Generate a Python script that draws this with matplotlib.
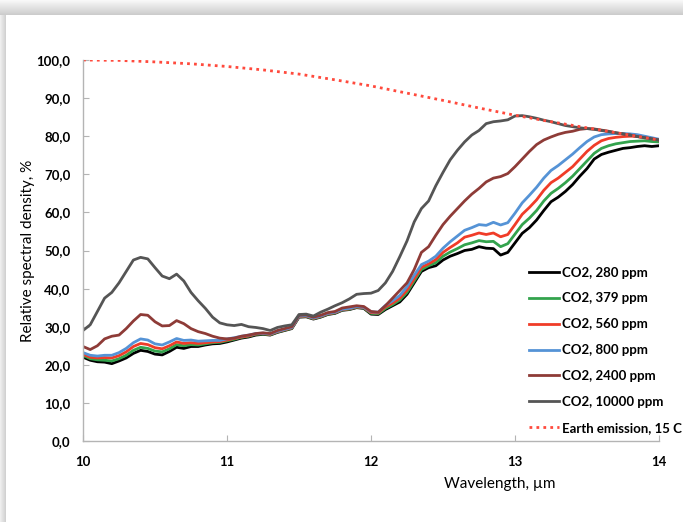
import numpy as np
import matplotlib
matplotlib.use("Agg")
import matplotlib.pyplot as plt

plt.rcParams['font.family'] = ['Lato', 'DejaVu Sans']

# wavelength grid (um) shared by the CO2 curves
wl = np.round(np.arange(10.0, 14.0001, 0.05), 2)

co2_280 = [22.0, 21.2, 20.8, 20.7, 20.3, 21.0, 21.8, 23.0, 23.8, 23.5,
           22.8, 22.6, 23.5, 24.6, 24.3, 24.8, 24.8, 25.2, 25.5, 25.6,
           26.0, 26.5, 27.0, 27.3, 27.8, 28.0, 27.8, 28.5, 29.0, 29.5,
           32.5, 32.6, 32.0, 32.5, 33.2, 33.5, 34.3, 34.5, 35.0, 34.8,
           33.3, 33.2, 34.5, 35.5, 36.5, 38.5, 41.5, 44.5, 45.5, 46.0,
           47.5, 48.5, 49.2, 50.0, 50.3, 51.0, 50.6, 50.5, 48.8, 49.5,
           52.0, 54.5, 56.0, 58.0, 60.5, 62.8, 64.0, 65.5, 67.3, 69.5,
           71.5, 74.0, 75.2, 75.8, 76.3, 76.8, 77.0, 77.3, 77.5, 77.3, 77.5]

co2_379 = [22.5, 21.6, 21.3, 21.2, 21.0, 21.6, 22.5, 23.8, 24.6, 24.3,
           23.6, 23.4, 24.2, 25.3, 25.0, 25.3, 25.2, 25.5, 25.8, 25.9,
           26.3, 26.7, 27.2, 27.5, 28.0, 28.1, 27.9, 28.6, 29.1, 29.6,
           32.6, 32.7, 32.1, 32.6, 33.3, 33.6, 34.4, 34.6, 35.1, 34.9,
           33.5, 33.4, 34.8, 35.8, 37.0, 39.0, 42.0, 45.0, 46.0, 46.8,
           48.5, 49.6, 50.5, 51.5, 52.0, 52.6, 52.3, 52.4, 51.0, 51.8,
           54.3, 56.8, 58.5, 60.5, 63.0, 65.0, 66.3, 67.8, 69.5, 71.5,
           73.5, 75.5, 76.8, 77.5, 78.0, 78.3, 78.6, 78.7, 78.8, 78.6, 78.5]

co2_560 = [22.8, 22.0, 21.8, 21.9, 21.8, 22.4, 23.4, 24.8, 25.6, 25.3,
           24.5, 24.2, 25.0, 26.0, 25.6, 25.8, 25.6, 25.8, 26.0, 26.1,
           26.5, 26.9, 27.3, 27.6, 28.1, 28.2, 28.0, 28.7, 29.2, 29.7,
           32.7, 32.8, 32.2, 32.7, 33.4, 33.7, 34.5, 34.7, 35.2, 35.0,
           33.7, 33.6, 35.2, 36.2, 37.5, 39.6, 42.6, 45.6, 46.5, 47.6,
           49.5, 50.8, 52.0, 53.5, 54.0, 54.6, 54.2, 54.6, 53.6, 54.2,
           56.8, 59.5, 61.3, 63.3, 65.8, 67.8, 69.0, 70.5, 72.0, 74.0,
           76.0, 77.6, 78.8, 79.4, 79.7, 79.9, 80.0, 80.0, 79.8, 79.4, 79.0]

co2_800 = [23.2, 22.5, 22.3, 22.5, 22.5, 23.2, 24.3, 25.8, 26.8, 26.5,
           25.5, 25.2, 26.0, 26.9, 26.4, 26.5, 26.2, 26.3, 26.4, 26.4,
           26.8, 27.1, 27.5, 27.8, 28.2, 28.3, 28.1, 28.8, 29.3, 29.8,
           32.8, 32.9, 32.3, 32.8, 33.5, 33.8, 34.6, 34.8, 35.3, 35.1,
           33.9, 33.8, 35.6, 36.8, 38.2, 40.5, 43.5, 46.3, 47.2, 48.5,
           50.6, 52.3, 53.8, 55.3, 56.0, 56.8, 56.6, 57.4, 56.7, 57.3,
           59.8, 62.5, 64.5, 66.6, 69.0, 71.0, 72.3, 73.8, 75.3, 77.0,
           78.6, 79.8, 80.4, 80.6, 80.7, 80.7, 80.6, 80.4, 80.0, 79.6, 79.2]

co2_2400 = [24.8, 24.0, 25.0, 26.8, 27.5, 27.8, 29.5, 31.5, 33.2, 33.0,
            31.3, 30.2, 30.3, 31.6, 30.8, 29.5, 28.7, 28.2, 27.5, 27.0,
            26.8, 27.0, 27.5, 27.8, 28.2, 28.4, 28.2, 29.0, 29.5, 30.0,
            33.0, 33.1, 32.5, 33.0, 33.7, 34.0, 34.9, 35.2, 35.5, 35.3,
            34.0, 33.8, 35.5, 37.5, 39.5, 41.5, 45.0, 49.5, 51.0, 54.0,
            56.8, 59.0, 61.0, 63.0, 64.8, 66.3, 68.0, 69.0, 69.4, 70.2,
            72.0, 74.0, 76.0, 77.8, 79.0, 79.8, 80.5, 81.0, 81.3, 81.8,
            82.0, 81.9, 81.6, 81.3, 80.9, 80.6, 80.3, 79.9, 79.6, 79.3, 79.0]

co2_10000 = [29.0, 30.5, 34.0, 37.5, 39.0, 41.5, 44.5, 47.5, 48.2, 47.8,
             45.5, 43.3, 42.6, 43.8, 42.0, 39.0, 36.8, 34.8, 32.5, 31.0,
             30.5, 30.3, 30.6, 30.0, 29.8, 29.5, 29.0, 29.8, 30.2, 30.5,
             33.2, 33.3, 32.8, 33.8, 34.6, 35.5, 36.3, 37.3, 38.5, 38.7,
             38.8, 39.5, 41.5, 44.5, 48.4, 52.5, 57.5, 61.0, 63.0, 67.0,
             70.5, 73.8, 76.3, 78.5, 80.3, 81.5, 83.3, 83.8, 84.0, 84.3,
             85.3, 85.4, 85.1, 84.7, 84.2, 83.8, 83.3, 82.8, 82.5, 82.2,
             82.0, 81.8, 81.5, 81.2, 80.9, 80.6, 80.3, 79.9, 79.6, 79.3, 79.0]

earth_wl = [10.0, 10.25, 10.5, 10.75, 11.0, 11.25, 11.5, 11.75, 12.0,
            12.25, 12.5, 12.75, 13.0, 13.25, 13.5, 13.75, 14.0]
earth_15c = [100.0, 99.9, 99.5, 99.0, 98.3, 97.4, 96.3, 94.8, 93.2,
             91.3, 89.4, 87.4, 85.5, 83.8, 82.2, 80.6, 79.0]

series = [
    ("CO2, 280 ppm", co2_280, "#000000"),
    ("CO2, 379 ppm", co2_379, "#33a34d"),
    ("CO2, 560 ppm", co2_560, "#f03c28"),
    ("CO2, 800 ppm", co2_800, "#5593d6"),
    ("CO2, 2400 ppm", co2_2400, "#8e3b37"),
    ("CO2, 10000 ppm", co2_10000, "#555555"),
]

fig = plt.figure(figsize=(6.83, 5.22), dpi=100)

# drop shadow of the chart panel (top and left edges)
bg = np.ones((522, 683))
top = np.linspace(0.97, 0.80, 15)
bg[:15, :] = top[:, None]
left = np.linspace(0.93, 0.82, 6)
bg[15:, :6] = left[None, :]
bax = fig.add_axes([0, 0, 1, 1], zorder=-5)
bax.imshow(bg, cmap="gray", vmin=0, vmax=1, aspect="auto", interpolation="bilinear")
bax.axis("off")

ax = fig.add_axes([83 / 683, 81 / 522, 576 / 683, 381 / 522])
ax.patch.set_alpha(0)

for label, vals, col in series:
    ax.plot(wl, vals, color=col, lw=2.0, label=label)
ax.plot(earth_wl, earth_15c, color="#ff4a3d", lw=2.0, ls=(0, (1, 1.5)),
        label="Earth emission, 15 C")

ax.set_xlim(10, 14)
ax.set_ylim(0, 100)
ax.set_xticks([10, 11, 12, 13, 14])
ax.set_yticks(np.arange(0, 101, 10))
ax.set_yticklabels([f"{v:.1f}".replace(".", ",") for v in np.arange(0, 101, 10)])
for s in ["top", "right"]:
    ax.spines[s].set_visible(False)
for s in ["left", "bottom"]:
    ax.spines[s].set_color("#b4b4b4")
    ax.spines[s].set_linewidth(1.0)
ax.tick_params(direction="in", length=4, color="#b4b4b4", labelsize=9.5)
ax.tick_params(axis="y", pad=9)
ax.tick_params(axis="x", pad=11)
for t in ax.get_xticklabels() + ax.get_yticklabels():
    t.set_fontweight("bold")

ax.set_xlabel("Wavelength, \u00b5m", fontsize=11)
ax.xaxis.set_label_coords(0.724, -0.095)
ax.set_ylabel("Relative spectral density, %", fontsize=11)
ax.yaxis.set_label_coords(-0.083, 0.5)

leg = fig.legend(loc="upper left", bbox_to_anchor=(0.757, 0.512), frameon=False,
                 handlelength=2.3, handletextpad=0.2, labelspacing=1.05,
                 prop={"weight": "bold", "size": 9.5})

fig.savefig("out.png", dpi=100)
